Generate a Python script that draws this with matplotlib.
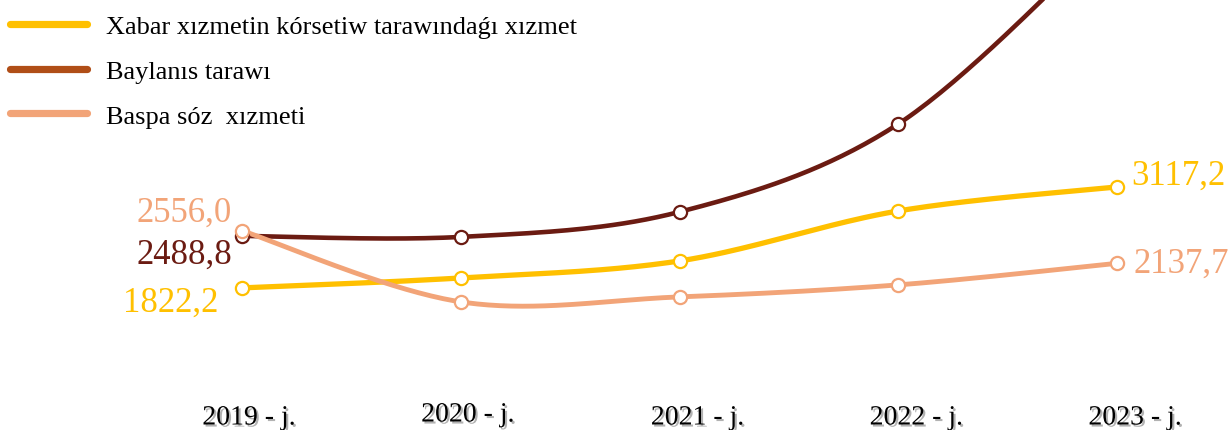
import numpy as np
import matplotlib
matplotlib.use('Agg')
from matplotlib import pyplot as plt
from matplotlib.lines import Line2D
import matplotlib.patheffects as pe

years = ['2019 - j.', '2020 - j.', '2021 - j.', '2022 - j.', '2023 - j.']
xabar = [1822.2, 1950.0, 2168.0, 2809.0, 3117.2]
baylanis = [2488.8, 2476.0, 2797.0, 3925.0, 6450.0]
baspa = [2556.0, 1643.0, 1707.0, 1861.0, 2137.7]
names = ['Xabar xızmetin kórsetiw tarawındaǵı xızmet', 'Baylanıs tarawı', 'Baspa sóz  xızmeti']

c_yel = '#FFC000'
c_dark = '#6B1B12'
c_dark_leg = '#B04E17'
c_or = '#F2A478'


def smooth(x, y, n=40):
    # сглаживание как в Excel (Catmull-Rom через кривые Безье)
    p = np.column_stack([x, y]).astype(float)
    out = []
    for i in range(len(p) - 1):
        p0 = p[i - 1] if i > 0 else p[i]
        p1, p2 = p[i], p[i + 1]
        p3 = p[i + 2] if i + 2 < len(p) else p[i + 1]
        c1 = p1 + (p2 - p0) / 6
        c2 = p2 - (p3 - p1) / 6
        t = np.linspace(0, 1, n)[:, None]
        b = (1 - t) ** 3 * p1 + 3 * (1 - t) ** 2 * t * c1 + 3 * (1 - t) * t ** 2 * c2 + t ** 3 * p2
        out.append(b)
    b = np.vstack(out)
    return b[:, 0], b[:, 1]


fig = plt.figure(figsize=(12.28, 4.31), dpi=100)
ax = fig.add_axes([0, 0, 1, 1])
x = np.arange(len(years))

for vals, col, lw in [(xabar, c_yel, 3.8), (baylanis, c_dark, 3.3), (baspa, c_or, 3.5)]:
    sx, sy = smooth(x, vals)
    ax.plot(sx, sy, color=col, lw=lw, solid_capstyle='round')
    ax.plot(x, vals, 'o', ms=9.5, mfc='white', mec=col, mew=1.6, zorder=5)

ax.set_xlim(-1.106, 4.507)
ax.set_ylim(0, 5527)
ax.axis('off')

lab = dict(fontsize=25, family='Liberation Serif', textcoords='offset pixels', va='center')
ax.annotate('2556,0', (0, baspa[0]), xytext=(-10, 18), ha='right', color=c_or, **lab)
ax.annotate('2488,8', (0, baylanis[0]), xytext=(-10, -18), ha='right', color=c_dark, **lab)
ax.annotate('1822,2', (0, xabar[0]), xytext=(-24, -14), ha='right', color=c_yel, **lab)
ax.annotate('3117,2', (4, xabar[4]), xytext=(14, 12), ha='left', color=c_yel, **lab)
ax.annotate('2137,7', (4, baspa[4]), xytext=(16, 0), ha='left', color=c_or, **lab)

shadow = [pe.SimplePatchShadow(offset=(1.5, -1.5), shadow_rgbFace='#808080', alpha=0.6), pe.Normal()]
for i, yr in enumerate(years):
    ax.annotate(yr, (i, 0), xytext=(7 if i < 2 else 18, 12 if i != 1 else 15),
                textcoords='offset pixels', ha='center', va='center',
                fontsize=20, family='Liberation Serif', path_effects=shadow)

handles = [Line2D([], [], color=c, lw=5.2, solid_capstyle='round') for c in [c_yel, c_dark_leg, c_or]]
fig.legend(handles, names, loc='upper left', bbox_to_anchor=(10 / 1228, 1 - 16 / 431),
           frameon=False, borderpad=0, borderaxespad=0, handlelength=2.9, handletextpad=0.72,
           labelspacing=0.8, prop={'family': 'Liberation Serif', 'size': 19})

fig.savefig('out.png', dpi=100)
